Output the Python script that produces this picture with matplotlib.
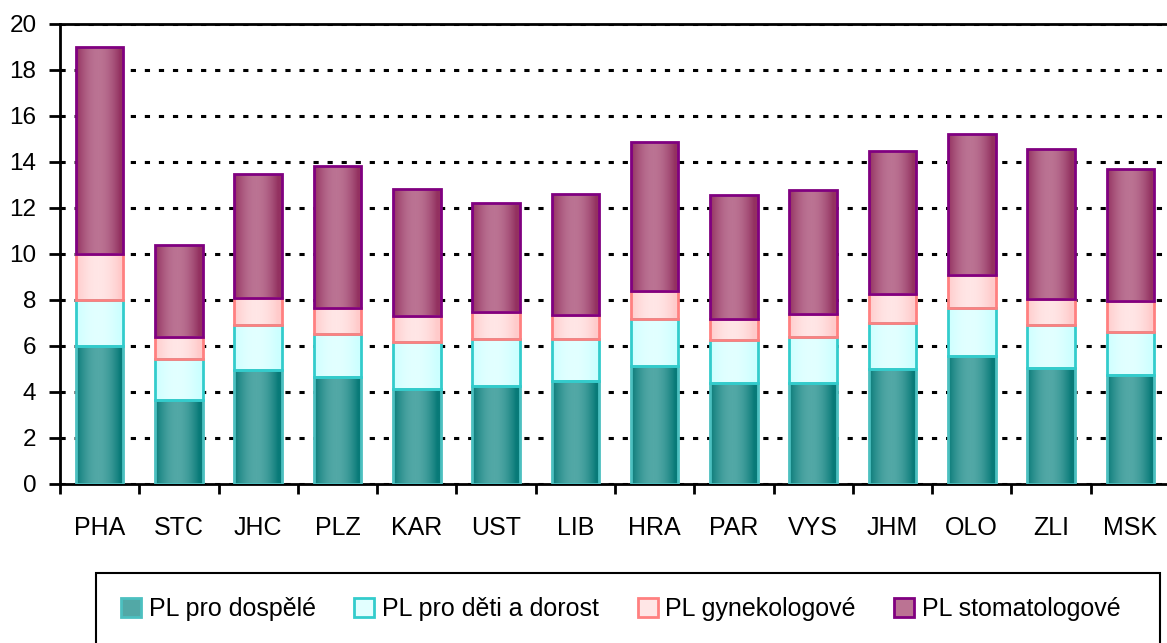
import numpy as np
import matplotlib
matplotlib.use('Agg')
import matplotlib.pyplot as plt
from matplotlib.colors import LinearSegmentedColormap
from matplotlib.patches import Rectangle, Patch

plt.rcParams['font.family'] = ['Liberation Sans', 'DejaVu Sans']

# kraje
kraje = ['PHA', 'STC', 'JHC', 'PLZ', 'KAR', 'UST', 'LIB', 'HRA', 'PAR', 'VYS', 'JHM', 'OLO', 'ZLI', 'MSK']

# hodnoty jednotlivych skupin lekaru
dospele = [6.0, 3.65, 4.96, 4.67, 4.13, 4.28, 4.46, 5.13, 4.41, 4.38, 4.99, 5.57, 5.04, 4.75]
deti = [2.0, 1.77, 1.97, 1.84, 2.06, 2.01, 1.86, 2.06, 1.85, 2.03, 2.0, 2.1, 1.89, 1.87]
gyn = [2.0, 0.99, 1.17, 1.16, 1.13, 1.2, 1.03, 1.2, 0.9, 0.97, 1.26, 1.42, 1.13, 1.32]
stom = [9.0, 4.0, 5.38, 6.16, 5.51, 4.71, 5.25, 6.46, 5.39, 5.42, 6.25, 6.13, 6.49, 5.76]

nazvy = ['PL pro dospělé', 'PL pro děti a dorost', 'PL gynekologové', 'PL stomatologové']
# (okraj gradientu, stred gradientu, barva obrysu)
barvy = [('#087a78', '#52a8a6', '#4cc0c0'),
         ('#ccffff', '#e2ffff', '#33cccc'),
         ('#ffcaca', '#ffe6e6', '#ff8080'),
         ('#933160', '#bb7393', '#800080')]

fig = plt.figure(figsize=(11.67, 6.43), dpi=100)
ax = fig.add_axes([60 / 1167, 1 - 484 / 643, 1110 / 1167, 460 / 643])

x = np.arange(len(kraje))
sirka = 0.6
spodek = np.zeros(len(kraje))
t = np.linspace(0, 1, 64)
profil = np.sin(np.pi * np.clip(t * 1.08, 0, 1)) ** 0.9

for hodnoty, nazev, (c_okraj, c_stred, c_obrys) in zip([dospele, deti, gyn, stom], nazvy, barvy):
    cmap = LinearSegmentedColormap.from_list('g', [c_okraj, c_stred])
    bars = ax.bar(x, hodnoty, sirka, bottom=spodek, facecolor='none',
                  edgecolor=c_obrys, linewidth=2, zorder=4)
    for b in bars:
        x0, y0 = b.get_x(), b.get_y()
        w, h = b.get_width(), b.get_height()
        im = ax.imshow(profil[np.newaxis, :], cmap=cmap, aspect='auto',
                       extent=(x0, x0 + w, y0, y0 + h), zorder=3,
                       interpolation='bilinear', vmin=0, vmax=1)
        im.set_clip_path(b)
    spodek += np.array(hodnoty)

ax.set_xlim(-0.5, len(kraje) - 0.5)
ax.set_ylim(0, 20)
ax.set_yticks(range(0, 21, 2))
ax.set_xticks(x)
ax.set_xticklabels(kraje, fontsize=18)
ax.set_xticks(np.arange(-0.5, len(kraje), 1), minor=True)
ax.tick_params(axis='x', which='major', length=0, pad=23)
ax.tick_params(axis='x', which='minor', length=7, width=2, direction='out')
ax.tick_params(axis='y', length=8, width=2, pad=9, labelsize=17.5)

ax.set_axisbelow(True)
ax.yaxis.grid(True, color='black', linewidth=2.2, linestyle=(0, (1.7, 2.9)))
ax.xaxis.grid(False)
for s in ['left', 'bottom', 'top']:
    ax.spines[s].set_linewidth(2)
    ax.spines[s].set_color('black')
ax.spines['right'].set_visible(False)

# legenda s ramečkem
fig.patches.append(Rectangle((96 / 1167, -0.05), (1160 - 96) / 1167, 0.05 + 1 - 573 / 643,
                             transform=fig.transFigure, facecolor='white',
                             edgecolor='black', linewidth=1.5))
handles = [Patch(facecolor=c_stred, edgecolor=c_obrys, linewidth=2)
           for (c_okraj, c_stred, c_obrys) in barvy]
fig.legend(handles, nazvy, loc='center', bbox_to_anchor=(0.532, 1 - 609 / 643),
           ncol=4, frameon=False, fontsize=18, handlelength=0.8, handleheight=0.8,
           handletextpad=0.3, columnspacing=1.55)

fig.savefig('out.png', dpi=100)
